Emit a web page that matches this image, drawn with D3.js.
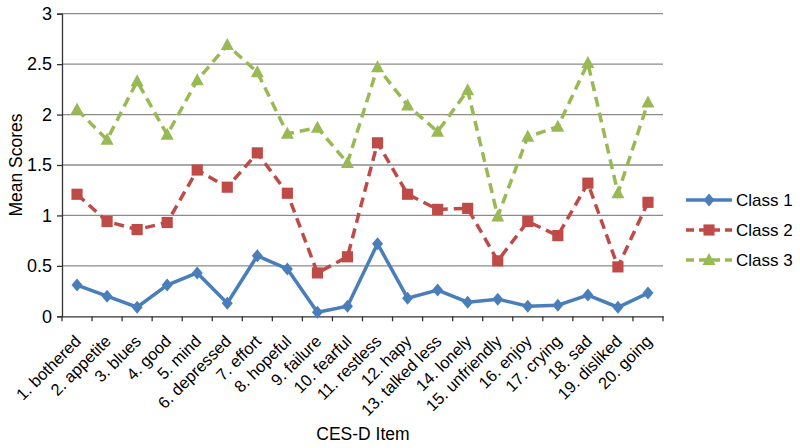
<!DOCTYPE html>
<html><head><meta charset="utf-8">
<script src="https://cdn.jsdelivr.net/npm/d3@7"></script>
<style>body{margin:0;background:#fff;} text{font-family:"Liberation Sans",Arial,sans-serif;fill:#000;}</style>
</head><body><svg id="c" width="800" height="448"></svg>
<script>
const categories = ["1. bothered","2. appetite","3. blues","4. good","5. mind","6. depressed","7. effort","8. hopeful","9. failure","10. fearful","11. restless","12. hapy","13. talked less","14. lonely","15. unfriendly","16. enjoy","17. crying","18. sad","19. disliked","20. going"];
const class1 = [0.31,0.20,0.09,0.31,0.43,0.13,0.60,0.47,0.04,0.10,0.72,0.18,0.26,0.14,0.17,0.10,0.11,0.21,0.09,0.23];
const class2 = [1.21,0.94,0.86,0.93,1.45,1.28,1.62,1.22,0.43,0.59,1.72,1.21,1.06,1.07,0.55,0.94,0.80,1.32,0.49,1.13];
const class3 = [2.05,1.75,2.33,1.80,2.34,2.69,2.42,1.81,1.87,1.52,2.47,2.09,1.83,2.24,0.99,1.78,1.88,2.51,1.22,2.12];
const yTicks = [0,0.5,1,1.5,2,2.5,3];
const seriesNames = ["Class 1","Class 2","Class 3"];

const svg = d3.select("#c");
const L=62,R=663,T=13.7,B=316.3;
const x = d3.scaleBand().domain(categories).range([L,R]);
const y = d3.scaleLinear().domain([0,3]).range([B,T]);

svg.append("g").selectAll("line").data(yTicks.filter(d=>d>0)).join("line")
  .attr("x1",L).attr("x2",R).attr("y1",d=>y(d)).attr("y2",d=>y(d))
  .attr("stroke","#8c8c8c").attr("stroke-width",1.3);

const ya = svg.append("g").attr("transform",`translate(${L},0)`)
  .call(d3.axisLeft(y).tickValues(yTicks).tickFormat(d3.format("")).tickSize(5).tickPadding(5));
ya.select(".domain").attr("stroke","#333").attr("stroke-width",1.3);
ya.selectAll(".tick line").attr("stroke","#333").attr("stroke-width",1.3);
ya.selectAll("text").attr("font-size",18).attr("font-family","Liberation Sans, Arial, sans-serif").attr("fill","#000");

const xa = svg.append("g").attr("transform",`translate(0,${B})`)
  .call(d3.axisBottom(x).tickSize(0).tickFormat(""));
xa.select(".domain").attr("stroke","#333").attr("stroke-width",1.3);
xa.selectAll(".tick").remove();
const bounds = d3.range(categories.length+1).map(i=>L+i*x.step());
xa.selectAll("line.tk").data(bounds).join("line").attr("class","tk")
  .attr("x1",d=>d).attr("x2",d=>d).attr("y1",0).attr("y2",5).attr("stroke","#333").attr("stroke-width",1.3);

svg.append("g").selectAll("text").data(categories).join("text")
  .attr("transform",d=>`translate(${x(d)+x.bandwidth()/2+5},${B+26}) rotate(-45)`)
  .attr("text-anchor","end").attr("font-size",16.5).text(d=>d);

svg.append("text").attr("transform",`translate(22,165) rotate(-90)`).attr("text-anchor","middle")
  .attr("font-size",17.5).text("Mean Scores");
svg.append("text").attr("x",363).attr("y",440).attr("text-anchor","middle").attr("font-size",17.5).text("CES-D Item");

const colors = ["#4a7ebb","#be4b48","#98b954"];
const dashes = [null,"10,6","10,6"];
const diamond = {draw(ctx,size){ctx.moveTo(0,-6.5);ctx.lineTo(5.5,0);ctx.lineTo(0,6.5);ctx.lineTo(-5.5,0);ctx.closePath();}};
const triangle = {draw(ctx,size){ctx.moveTo(0,-7);ctx.lineTo(6.5,5);ctx.lineTo(-6.5,5);ctx.closePath();}};
const shapes = [diamond,d3.symbolSquare,triangle];
const sizes = [64,125,110];
const data = [class1,class2,class3];
const line = d3.line().x((d,i)=>x(categories[i])+x.bandwidth()/2).y(d=>y(d));

data.forEach((vals,k)=>{
  svg.append("path").datum(vals).attr("d",line).attr("fill","none")
    .attr("stroke",colors[k]).attr("stroke-width",3.5).attr("stroke-dasharray",dashes[k]);
  svg.append("g").selectAll("path").data(vals).join("path")
    .attr("d",d3.symbol().type(shapes[k]).size(sizes[k]))
    .attr("transform",(d,i)=>`translate(${x(categories[i])+x.bandwidth()/2},${y(d)})`)
    .attr("fill",colors[k]);
});

const lg = svg.append("g");
seriesNames.forEach((n,k)=>{
  const yy = 200 + k*30;
  lg.append("line").attr("x1",686).attr("x2",732).attr("y1",yy).attr("y2",yy)
    .attr("stroke",colors[k]).attr("stroke-width",3.5).attr("stroke-dasharray",dashes[k]?"8,5":null);
  lg.append("path").attr("d",d3.symbol().type(shapes[k]).size(sizes[k]))
    .attr("transform",`translate(709,${yy})`).attr("fill",colors[k]);
  lg.append("text").attr("x",736).attr("y",yy+6).attr("font-size",17).text(n);
});
</script></body></html>
